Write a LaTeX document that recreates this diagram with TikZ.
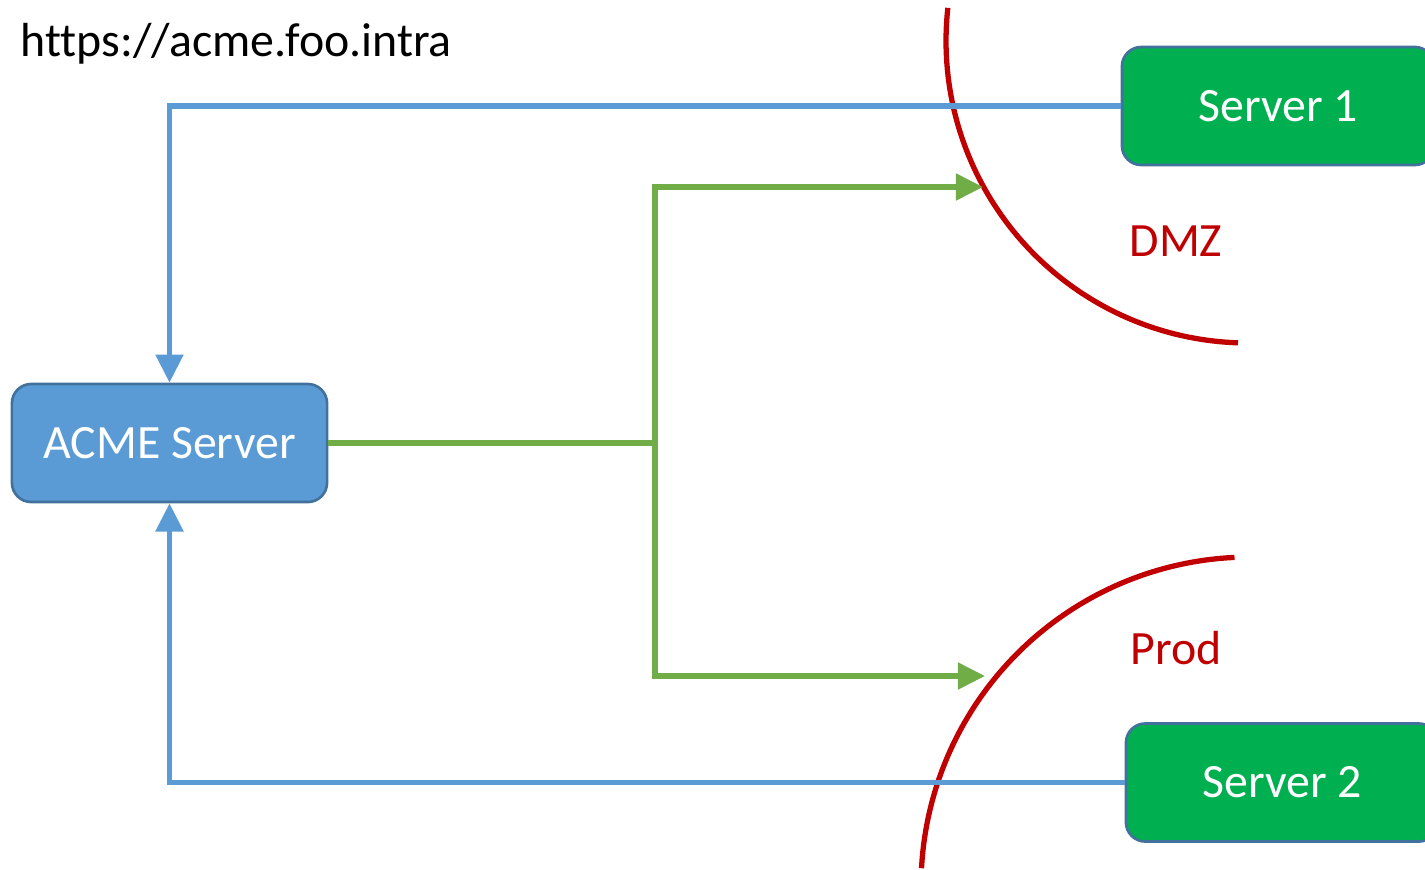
\documentclass[tikz,border=0pt]{standalone}
\usepackage{fontspec}
\setmainfont{Carlito}[Ligatures=CommonOff]
\usetikzlibrary{arrows.meta}

\definecolor{boxblue}{HTML}{5B9BD5}
\definecolor{edgeblue}{HTML}{41719C}
\definecolor{srvgreen}{HTML}{00B050}
\definecolor{flowgreen}{HTML}{70AD47}
\definecolor{zonered}{HTML}{C00000}

\tikzset{
  txt/.style={font=\fontsize{13.6pt}{16pt}\selectfont},
  hostbox/.style={txt, draw=edgeblue, line width=0.75pt, rounded corners=5.5pt,
    text=white, inner sep=0pt},
  acmebox/.style={hostbox, fill=boxblue, minimum width=3.15cm, minimum height=1.18cm},
  srvbox/.style={hostbox, fill=srvgreen, minimum width=3.12cm, minimum height=1.18cm},
  reply/.style={draw=boxblue, line width=1.45pt,
    -{Triangle[width=7.7pt,length=8pt]}},
  request/.style={draw=flowgreen, line width=1.45pt,
    -{Triangle[width=7.4pt,length=7.7pt]}},
  zone/.style={draw=zonered, line width=1.5pt},
  zonelabel/.style={txt, text=zonered, inner sep=0pt, anchor=base},
}

\begin{document}
\begin{tikzpicture}[x=0.01cm, y=-0.01cm]
  \path[use as bounding box, clip] (0,0) rectangle (1425,869);

  % zone boundaries
  \draw[zone] plot[domain=186.3:91.9, samples=80]
    ({1248+302*cos(\x)}, {41+302*sin(\x)});
  \draw[zone] plot[domain=267.3:183.1, samples=80]
    ({1250+329*cos(\x)}, {886+329*sin(\x)});

  % hosts
  \node[acmebox] (acme) at (169.5,443) {ACME Server};
  \node[srvbox] (s1) at (1278,106) {Server 1};
  \node[srvbox] (s2) at (1282,782.5) {Server 2};

  % labels
  \node[txt, text=black, inner sep=0pt, anchor=base west] (url) at (20,56) {https://acme.foo.intra};
  \node[zonelabel] (dmz) at (1176,256) {DMZ};
  \node[zonelabel] (prod) at (1176,664) {Prod};

  % outgoing requests
  \coordinate (fork) at (655,443);
  \coordinate (dmzend) at (983,187);
  \coordinate (prodend) at (985,676);
  \draw[draw=flowgreen, line width=1.45pt] (acme.east) -- (fork);
  \draw[request] (fork) |- (dmzend);
  \draw[request] (fork) |- (prodend);

  % replies back to the ACME server
  \draw[reply] (s1.west) -| (acme.north);
  \draw[reply] (s2.west) -| (acme.south);
\end{tikzpicture}
\end{document}
